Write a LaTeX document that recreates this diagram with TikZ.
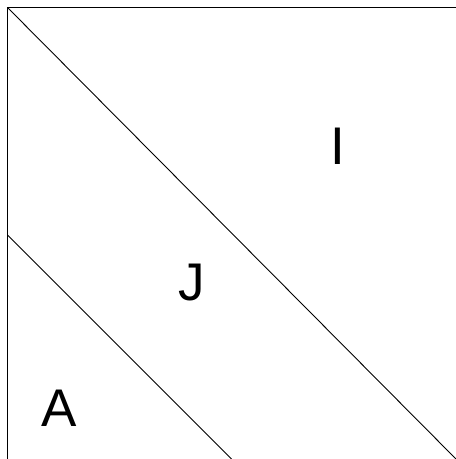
\documentclass[tikz,border=0pt]{standalone}
\usepackage{fontspec}
\setmainfont{Liberation Sans}
\usetikzlibrary{positioning}

\begin{document}
\begin{tikzpicture}[x=1pt,y=-1pt, line width=0.9pt,
  region/.style={font=\fontsize{53}{60}\selectfont, inner sep=0pt}]

  \useasboundingbox (0,0) rectangle (456,459);

  \coordinate (TL) at (7.5,7.5);
  \coordinate (TR) at (456,7.5);
  \coordinate (BL) at (7.5,459);
  \coordinate (BR) at (456,459);
  \coordinate (L) at (7.5,235);
  \coordinate (B) at (231.5,459);

  \draw (BL) -- (TL) -- (TR);
  \draw (TL) -- (BR);
  \draw (L) -- (B);

  \node[region] (I) at (338,146) {I};
  \node[region] (J) at (192,283) {J};
  \node[region] (A) at (59,408) {A};

\end{tikzpicture}
\end{document}
